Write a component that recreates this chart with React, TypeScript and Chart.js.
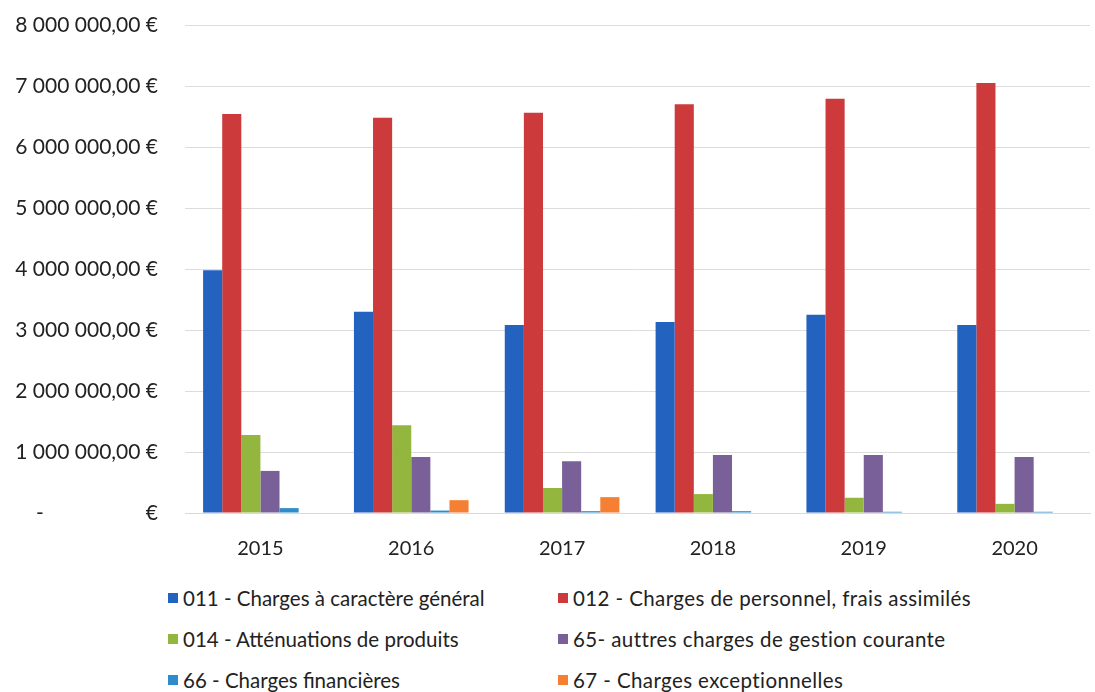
import React, { useEffect, useRef } from "react";
import { Chart, registerables } from "chart.js";

Chart.register(...registerables);

const years = ["2015", "2016", "2017", "2018", "2019", "2020"];
const charges011 = [3980000, 3300000, 3080000, 3130000, 3250000, 3080000];
const charges012 = [6540000, 6480000, 6560000, 6700000, 6790000, 7050000];
const charges014 = [1280000, 1440000, 410000, 310000, 250000, 150000];
const charges65 = [690000, 920000, 850000, 950000, 950000, 920000];
const charges66 = [80000, 40000, 30000, 30000, 20000, 20000];
const charges67 = [0, 210000, 260000, 0, 0, 0];

const labels011 = "011 - Charges à caractère général";
const labels012 = "012 - Charges de personnel, frais assimilés";
const labels014 = "014 - Atténuations de produits";
const labels65 = "65- auttres charges de gestion courante";
const labels66 = "66 - Charges financières";
const labels67 = "67 - Charges exceptionnelles";

const colors = ["#2462c0", "#cc3a3b", "#93b63f", "#7a6098", "#2f8ccb", "#f57f33"];

const seriesList = [
  { label: labels011, data: charges011 },
  { label: labels012, data: charges012 },
  { label: labels014, data: charges014 },
  { label: labels65, data: charges65 },
  { label: labels66, data: charges66 },
  { label: labels67, data: charges67 },
];

const FONT = "Lato, 'Open Sans', sans-serif";

function fmt(v: number): string {
  if (v === 0) return "-" + "\u00A0".repeat(19) + "€";
  return String(v).replace(/\B(?=(\d{3})+(?!\d))/g, "\u00A0") + ",00\u00A0€";
}

export default function App() {
  const ref = useRef<HTMLCanvasElement>(null);
  useEffect(() => {
    if (!ref.current) return;
    const chart = new Chart(ref.current, {
      type: "bar",
      data: {
        labels: years,
        datasets: seriesList.map((s, i) => ({
          label: s.label,
          data: s.data,
          backgroundColor: colors[i],
          borderWidth: 0,
          categoryPercentage: 0.76,
          barPercentage: 1,
        })),
      },
      options: {
        animation: false,
        responsive: false,
        maintainAspectRatio: false,
        layout: { padding: { top: 25, right: 5, left: 0, bottom: 0 } },
        plugins: { legend: { display: false }, tooltip: { enabled: false } },
        scales: {
          x: {
            grid: { display: false, drawTicks: false },
            border: { display: true, color: "#d9d9d9" },
            ticks: { color: "#222", font: { family: FONT, size: 20 }, padding: 24 },
          },
          y: {
            min: 0,
            max: 8000000,
            afterFit: (scale: any) => {
              scale.width = 185;
              scale.paddingTop = 0;
              scale.paddingBottom = 0;
            },
            grid: { color: "#dcdcdc", drawTicks: false, lineWidth: 1 },
            border: { display: false },
            ticks: {
              stepSize: 1000000,
              color: "#222",
              font: { family: FONT, size: 21 },
              padding: 27,
              callback: (v: any) => fmt(Number(v)),
            },
          },
        },
      },
    });
    return () => chart.destroy();
  }, []);

  const legendItems = seriesList.map((s, i) => ({ label: s.label, color: colors[i] }));
  const colX = [168, 558];
  const rowY = [598, 639, 680];

  return (
    <div style={{ position: "fixed", left: 0, top: 0, width: 1095, height: 692, background: "#fff", overflow: "hidden" }}>
      <canvas ref={ref} width={1095} height={585} style={{ position: "absolute", left: 0, top: 0 }} />
      {legendItems.map((it, i) => {
        const col = i % 2;
        const row = Math.floor(i / 2);
        return (
          <div
            key={i}
            style={{
              position: "absolute",
              left: colX[col],
              top: rowY[row] - 13,
              height: 26,
              display: "flex",
              alignItems: "center",
              fontFamily: FONT,
              fontSize: 20.5,
              letterSpacing: col === 1 ? "0.4px" : "0px",
              color: "#222",
              whiteSpace: "nowrap",
            }}
          >
            <span style={{ display: "inline-block", width: 10, height: 10, background: it.color, marginRight: 5 }} />
            <span>{it.label}</span>
          </div>
        );
      })}
    </div>
  );
}
